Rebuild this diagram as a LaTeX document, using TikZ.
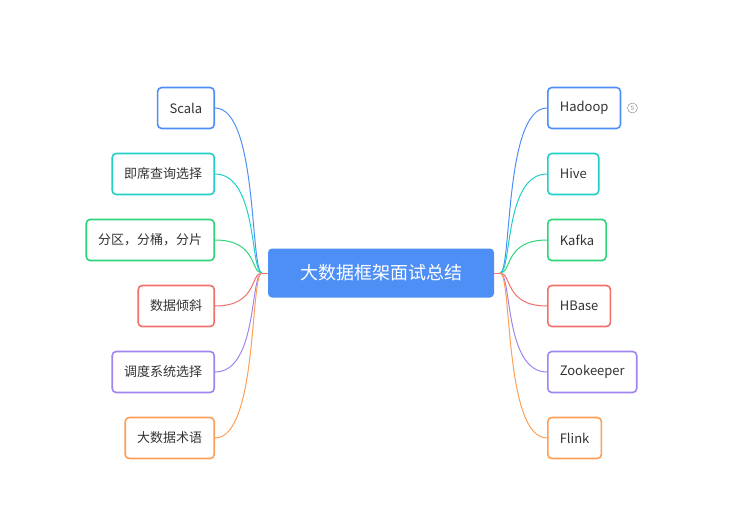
\documentclass[tikz,border=0pt]{standalone}
\usepackage{fontspec}
\setmainfont{Noto Sans CJK SC}
\usetikzlibrary{positioning}
\definecolor{cblue}{HTML}{4E8FF6}
\definecolor{ccyan}{HTML}{1FD0C8}
\definecolor{cgreen}{HTML}{2ED47A}
\definecolor{cred}{HTML}{F2706A}
\definecolor{cpurple}{HTML}{A084F0}
\definecolor{corange}{HTML}{FF9E55}
\definecolor{ctext}{HTML}{333333}
\tikzset{
  topic/.style={draw=#1, line width=1.6pt, rounded corners=4pt, fill=white,
    minimum height=41pt, inner xsep=12pt, text=ctext, font=\fontsize{13}{15}\selectfont},
  link/.style={draw=#1, line width=1pt},
}
\begin{document}
\begin{tikzpicture}[x=1pt, y=-1pt]
  \useasboundingbox (0,0) rectangle (735,511);
  \node[fill=cblue, rounded corners=4pt, minimum width=226pt, minimum height=49pt,
        text=white, font=\fontsize{18}{20}\selectfont] (root) at (381,273) {大数据框架面试总结};
  % left side
  \node[topic=cblue, anchor=east]    (scala) at (215,108) {Scala};
  \node[topic=ccyan, anchor=east]    (query) at (215,174) {即席查询选择};
  \node[topic=cgreen, anchor=east]   (part)  at (215,240) {分区，分桶，分片};
  \node[topic=cred, anchor=east]     (skew)  at (215,306) {数据倾斜};
  \node[topic=cpurple, anchor=east]  (sched) at (215,372) {调度系统选择};
  \node[topic=corange, anchor=east]  (term)  at (215,438) {大数据术语};
  % right side
  \node[topic=cblue, anchor=west]    (hadoop) at (547,108) {Hadoop};
  \node[topic=ccyan, anchor=west]    (hive)   at (547,174) {Hive};
  \node[topic=cgreen, anchor=west]   (kafka)  at (547,240) {Kafka};
  \node[topic=cred, anchor=west]     (hbase)  at (547,306) {HBase};
  \node[topic=cpurple, anchor=west]  (zk)     at (547,372) {Zookeeper};
  \node[topic=corange, anchor=west]  (flink)  at (547,438) {Flink};
  \node[draw=gray, circle, inner sep=0pt, minimum size=10pt, text=gray,
        font=\fontsize{6}{6}\selectfont, right=6pt of hadoop] (count) {5};
  \coordinate (lj) at (262,273);
  \coordinate (rj) at (500,273);
  \coordinate (lc) at (258,0);
  \coordinate (rc) at (504,0);
  \draw[link=cred] (root.west) -- (lj);
  \draw[link=cred] (root.east) -- (rj);
  \foreach \n/\c in {scala/cblue, query/ccyan, part/cgreen, skew/cred, sched/cpurple, term/corange}
    \draw[link=\c] (lj) .. controls (250,273) and (lc |- \n.east) .. (\n.east);
  \foreach \n/\c in {hadoop/cblue, hive/ccyan, kafka/cgreen, hbase/cred, zk/cpurple, flink/corange}
    \draw[link=\c] (rj) .. controls (512,273) and (rc |- \n.west) .. (\n.west);
\end{tikzpicture}
\end{document}
